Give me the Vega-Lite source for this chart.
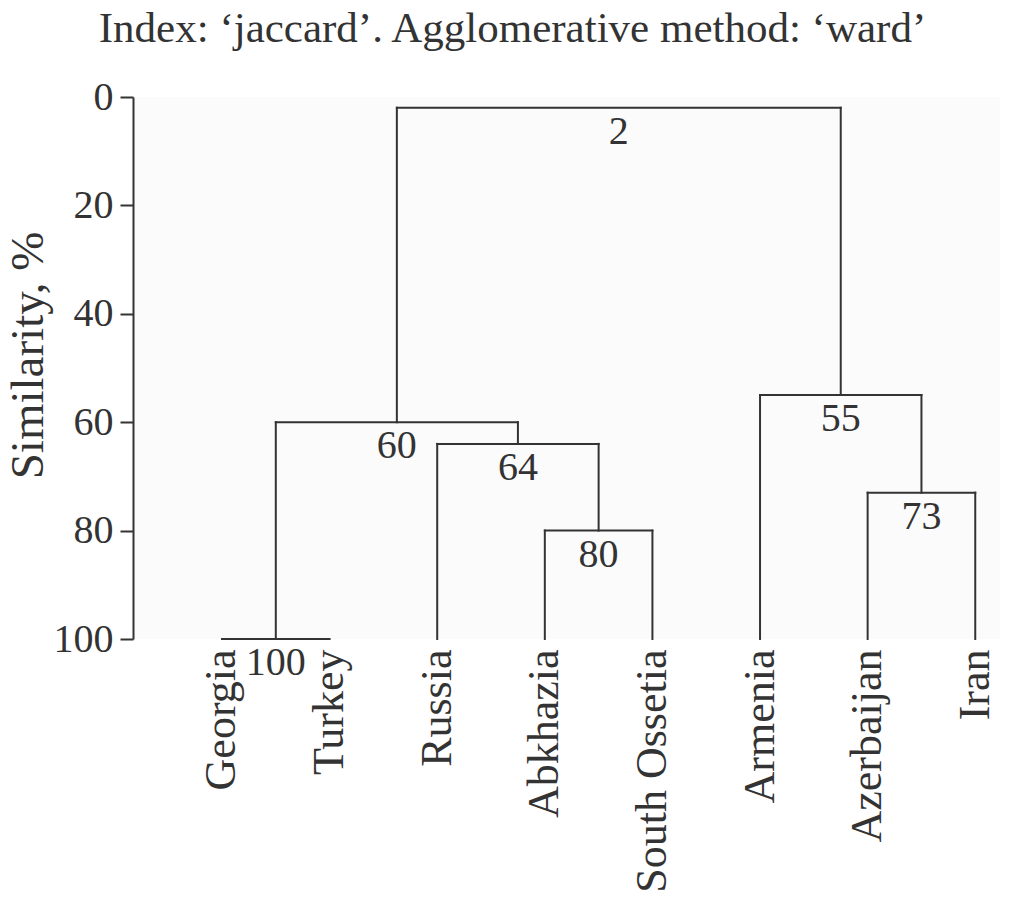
{
  "$schema": "https://vega.github.io/schema/vega-lite/v6.json",
  "autosize": {"type": "none"},
  "width": 867,
  "height": 542,
  "padding": {"left": 133, "top": 97, "right": 10, "bottom": 260},
  "background": "#ffffff",
  "config": {
    "view": {"fill": "#fbfbfb", "stroke": null},
    "font": "Liberation Serif",
    "text": {"font": "Liberation Serif"}
  },
  "title": {
    "text": "Index: ‘jaccard’. Agglomerative method: ‘ward’",
    "font": "Liberation Serif",
    "fontSize": 43,
    "fontWeight": "normal",
    "color": "#333333",
    "anchor": "middle",
    "frame": "group",
    "dx": -54,
    "offset": 26
  },
  "datasets": {
    "segments": [
      {"x": 1, "x2": 2, "y": 100, "y2": 100},
      {"x": 4, "x2": 5, "y": 80, "y2": 80},
      {"x": 3, "x2": 4.5, "y": 64, "y2": 64},
      {"x": 1.5, "x2": 3.75, "y": 60, "y2": 60},
      {"x": 7, "x2": 8, "y": 73, "y2": 73},
      {"x": 6, "x2": 7.5, "y": 55, "y2": 55},
      {"x": 2.625, "x2": 6.75, "y": 2, "y2": 2},
      {"x": 1.5, "x2": 1.5, "y": 100, "y2": 60},
      {"x": 3, "x2": 3, "y": 100, "y2": 64},
      {"x": 4, "x2": 4, "y": 100, "y2": 80},
      {"x": 5, "x2": 5, "y": 100, "y2": 80},
      {"x": 4.5, "x2": 4.5, "y": 80, "y2": 64},
      {"x": 3.75, "x2": 3.75, "y": 64, "y2": 60},
      {"x": 2.625, "x2": 2.625, "y": 60, "y2": 2},
      {"x": 6, "x2": 6, "y": 100, "y2": 55},
      {"x": 7, "x2": 7, "y": 100, "y2": 73},
      {"x": 8, "x2": 8, "y": 100, "y2": 73},
      {"x": 7.5, "x2": 7.5, "y": 73, "y2": 55},
      {"x": 6.75, "x2": 6.75, "y": 55, "y2": 2}
    ],
    "nodes": [
      {"x": 1.5, "sim": 100, "label": "100"},
      {"x": 4.5, "sim": 80, "label": "80"},
      {"x": 3.75, "sim": 64, "label": "64"},
      {"x": 2.625, "sim": 60, "label": "60"},
      {"x": 7.5, "sim": 73, "label": "73"},
      {"x": 6.75, "sim": 55, "label": "55"},
      {"x": 4.6875, "sim": 2, "label": "2"}
    ]
  },
  "layer": [
    {
      "data": {"name": "segments"},
      "mark": {"type": "rule", "color": "#333333", "strokeWidth": 2, "strokeCap": "square"},
      "encoding": {
        "x": {
          "field": "x", "type": "quantitative",
          "scale": {"domain": [0.173, 8.23], "nice": false, "zero": false},
          "axis": {
            "title": null,
            "values": [1, 2, 3, 4, 5, 6, 7, 8],
            "labelExpr": "['','Georgia','Turkey','Russia','Abkhazia','South Ossetia','Armenia','Azerbaijan','Iran'][datum.value]",
            "labelAngle": -90,
            "labelAlign": "right",
            "labelBaseline": "middle",
            "labelFont": "Liberation Serif",
            "labelFontSize": 44,
            "labelColor": "#333333",
            "labelPadding": 10,
            "labelLimit": 0,
            "domain": false,
            "ticks": false,
            "grid": false,
            "labelOverlap": false,
            "labelFlush": false
          }
        },
        "x2": {"field": "x2"},
        "y": {
          "field": "y", "type": "quantitative",
          "scale": {"domain": [0, 100], "reverse": true, "nice": false},
          "axis": {
            "title": "Similarity, %",
            "titleFont": "Liberation Serif",
            "titleFontSize": 47,
            "titleFontWeight": "normal",
            "titleColor": "#333333",
            "titleY": 258,
            "titleX": -128,
            "titleAlign": "center",
            "titleBaseline": "top",
            "titleAngle": -90,
            "values": [0, 20, 40, 60, 80, 100],
            "labelFont": "Liberation Serif",
            "labelFontSize": 40,
            "labelColor": "#333333",
            "labelPadding": 7,
            "tickSize": 13,
            "tickColor": "#333333",
            "tickWidth": 2,
            "domainColor": "#333333",
            "domainWidth": 2,
            "grid": false
          }
        },
        "y2": {"field": "y2"}
      }
    },
    {
      "data": {"name": "nodes"},
      "mark": {"type": "text", "font": "Liberation Serif", "fontSize": 40, "color": "#333333", "baseline": "middle", "align": "center", "dy": 24},
      "encoding": {
        "x": {"field": "x", "type": "quantitative"},
        "y": {"field": "sim", "type": "quantitative"},
        "text": {"field": "label"}
      }
    }
  ]
}
